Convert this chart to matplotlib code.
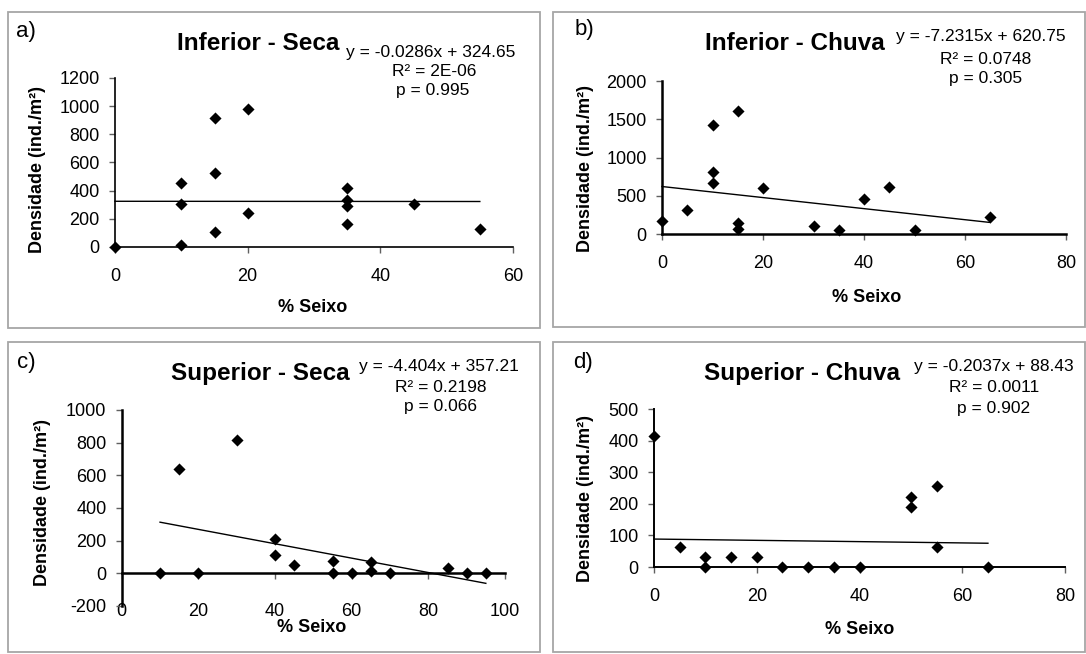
import matplotlib
matplotlib.use('Agg')
import matplotlib.pyplot as plt
import matplotlib.font_manager as fm
from matplotlib.patches import Rectangle

plt.rcParams['axes.unicode_minus'] = False

W, H = 1086, 654
fig = plt.figure(figsize=(W / 100, H / 100), dpi=100)

# ---------------- data ----------------
a_x = [0, 10, 10, 10, 15, 15, 15, 20, 20, 35, 35, 35, 35, 45, 55]
a_y = [0, 451, 304, 14, 913, 528, 109, 977, 240, 416, 333, 288, 162, 304, 126]
a_fit = (-0.0286, 324.65)
a_eq = ["y = -0.0286x + 324.65", "R² = 2E-06", "p = 0.995"]

b_x = [0, 5, 10, 10, 10, 15, 15, 15, 20, 30, 35, 40, 45, 50, 65]
b_y = [172, 315, 1422, 806, 664, 1603, 142, 65, 595, 103, 47, 457, 612, 47, 216]
b_fit = (-7.2315, 620.75)
b_eq = ["y = -7.2315x + 620.75", "R² = 0.0748", "p = 0.305"]

c_x = [10, 15, 20, 30, 40, 40, 45, 55, 55, 60, 65, 65, 70, 85, 90, 95]
c_y = [0, 639, 0, 816, 210, 110, 49, 78, 0, 0, 69, 14, 0, 35, 3, 0]
c_fit = (-4.404, 357.21)
c_eq = ["y = -4.404x + 357.21", "R² = 0.2198", "p = 0.066"]

d_x = [0, 5, 10, 10, 15, 20, 25, 30, 35, 40, 50, 50, 55, 55, 65]
d_y = [414, 64, 31, 0, 31, 31, 0, 0, 0, 0, 223, 190, 255, 64, 0]
d_fit = (-0.2037, 88.43)
d_eq = ["y = -0.2037x + 88.43", "R² = 0.0011", "p = 0.902"]

titles = ["Inferior - Seca", "Inferior - Chuva", "Superior - Seca", "Superior - Chuva"]
letters = ["a)", "b)", "c)", "d)"]
xlabel = "% Seixo"
ylabel = "Densidade (ind./m²)"

a_xticks = [0, 20, 40, 60]
a_yticks = [0, 200, 400, 600, 800, 1000, 1200]
b_xticks = [0, 20, 40, 60, 80]
b_yticks = [0, 500, 1000, 1500, 2000]
c_xticks = [0, 20, 40, 60, 80, 100]
c_yticks = [-200, 0, 200, 400, 600, 800, 1000]
d_xticks = [0, 20, 40, 60, 80]
d_yticks = [0, 100, 200, 300, 400, 500]

SANS = ['Liberation Sans', 'DejaVu Sans']
installed = {f.name for f in fm.fontManager.ttflist}
if 'Liberation Sans Narrow' in installed:
    TITLE_FAMILY = ['Liberation Sans Narrow', 'DejaVu Sans']
    TITLE_SIZE = 20
else:
    TITLE_FAMILY = ['Liberation Sans', 'DejaVu Sans']
    TITLE_SIZE = 17.5


def fx(px):
    return px / W


def fy(py):
    return 1 - py / H


def add_axes_px(x0, x1, ytop, ybot):
    return fig.add_axes([fx(x0), fy(ybot), (x1 - x0) / W, (ybot - ytop) / H])


panels = [
    dict(x=a_x, y=a_y, fit=a_fit, eq=a_eq, xt=a_xticks, yt=a_yticks,
         box=(115, 513, 78, 247), frame=(8, 12, 540, 328), spw=1.2, zero_axis=False,
         letter=(16, 32), title=(258, 50), eqpos=[(431, 53), (434, 72), (433, 91)],
         ylab=(38, 170), xlab=(313, 308)),
    dict(x=b_x, y=b_y, fit=b_fit, eq=b_eq, xt=b_xticks, yt=b_yticks,
         box=(662, 1066, 81, 234), frame=(553, 12, 1085, 327), spw=1.8, zero_axis=False,
         letter=(575, 29), title=(795, 50), eqpos=[(981, 36), (986, 59), (986, 79)],
         ylab=(585, 168), xlab=(867, 298)),
    dict(x=c_x, y=c_y, fit=c_fit, eq=c_eq, xt=c_xticks, yt=c_yticks,
         box=(121.7, 505, 410, 606), frame=(8, 342, 540, 652), spw=1.8, zero_axis=True,
         letter=(17, 362), title=(260, 380), eqpos=[(439, 366), (441, 387), (441, 406)],
         ylab=(43, 503), xlab=(312, 628)),
    dict(x=d_x, y=d_y, fit=d_fit, eq=d_eq, xt=d_xticks, yt=d_yticks,
         box=(654, 1065, 409, 567), frame=(553, 342, 1085, 652), spw=1.4, zero_axis=False,
         letter=(573, 362), title=(802, 380), eqpos=[(994, 366), (994, 388), (994, 409)],
         ylab=(585, 498), xlab=(860, 629)),
]

for i, p in enumerate(panels):
    # chart frame
    x0, y0, x1, y1 = p['frame']
    fig.add_artist(Rectangle((fx(x0), fy(y1)), (x1 - x0) / W, (y1 - y0) / H,
                             transform=fig.transFigure, fill=False,
                             edgecolor='#a6a6a6', linewidth=1.3))

    bx0, bx1, bt, bb = p['box']
    ax = add_axes_px(bx0, bx1, bt, bb)
    ax.set_facecolor('none')
    ax.set_xlim(p['xt'][0], p['xt'][-1])
    ax.set_ylim(p['yt'][0], p['yt'][-1])
    ax.set_xticks(p['xt'])
    ax.set_yticks(p['yt'])
    for s in ['top', 'right']:
        ax.spines[s].set_visible(False)
    for s in ['left', 'bottom']:
        ax.spines[s].set_linewidth(p['spw'])
        ax.spines[s].set_color('black')
    xpad = 11
    if p['zero_axis']:
        ax.spines['bottom'].set_position(('data', 0))
        xpad = 17
    ax.tick_params(axis='x', direction='out', length=4, width=1, color='#606060',
                   pad=xpad, labelsize=13)
    ax.tick_params(axis='y', direction='out', length=4, width=1, color='#606060',
                   pad=7, labelsize=13)
    for lab in ax.get_xticklabels() + ax.get_yticklabels():
        lab.set_fontfamily(SANS)

    # regression line over data range
    m, b = p['fit']
    xmin, xmax = min(p['x']), max(p['x'])
    ax.plot([xmin, xmax], [m * xmin + b, m * xmax + b], color='black', lw=1.0,
            clip_on=False, zorder=2)
    ax.scatter(p['x'], p['y'], marker='D', s=38, color='black', clip_on=False,
               zorder=3, linewidths=0)

    # texts
    lx, ly = p['letter']
    fig.text(fx(lx), fy(ly), letters[i], ha='left', va='center', fontsize=16,
             family=SANS)
    tx, ty = p['title']
    fig.text(fx(tx), fy(ty), titles[i], ha='center', va='baseline',
             fontsize=TITLE_SIZE, family=TITLE_FAMILY, fontweight='bold')
    for line, (ex, ey) in zip(p['eq'], p['eqpos']):
        fig.text(fx(ex), fy(ey), line, ha='center', va='center', fontsize=12.5,
                 family=SANS)
    yx, yy = p['ylab']
    fig.text(fx(yx), fy(yy), ylabel, rotation=90, ha='center', va='center',
             fontsize=13, fontweight='bold', family=SANS)
    xx, xy = p['xlab']
    fig.text(fx(xx), fy(xy), xlabel, ha='center', va='center',
             fontsize=13, fontweight='bold', family=SANS)

fig.savefig('out.png', dpi=100)
